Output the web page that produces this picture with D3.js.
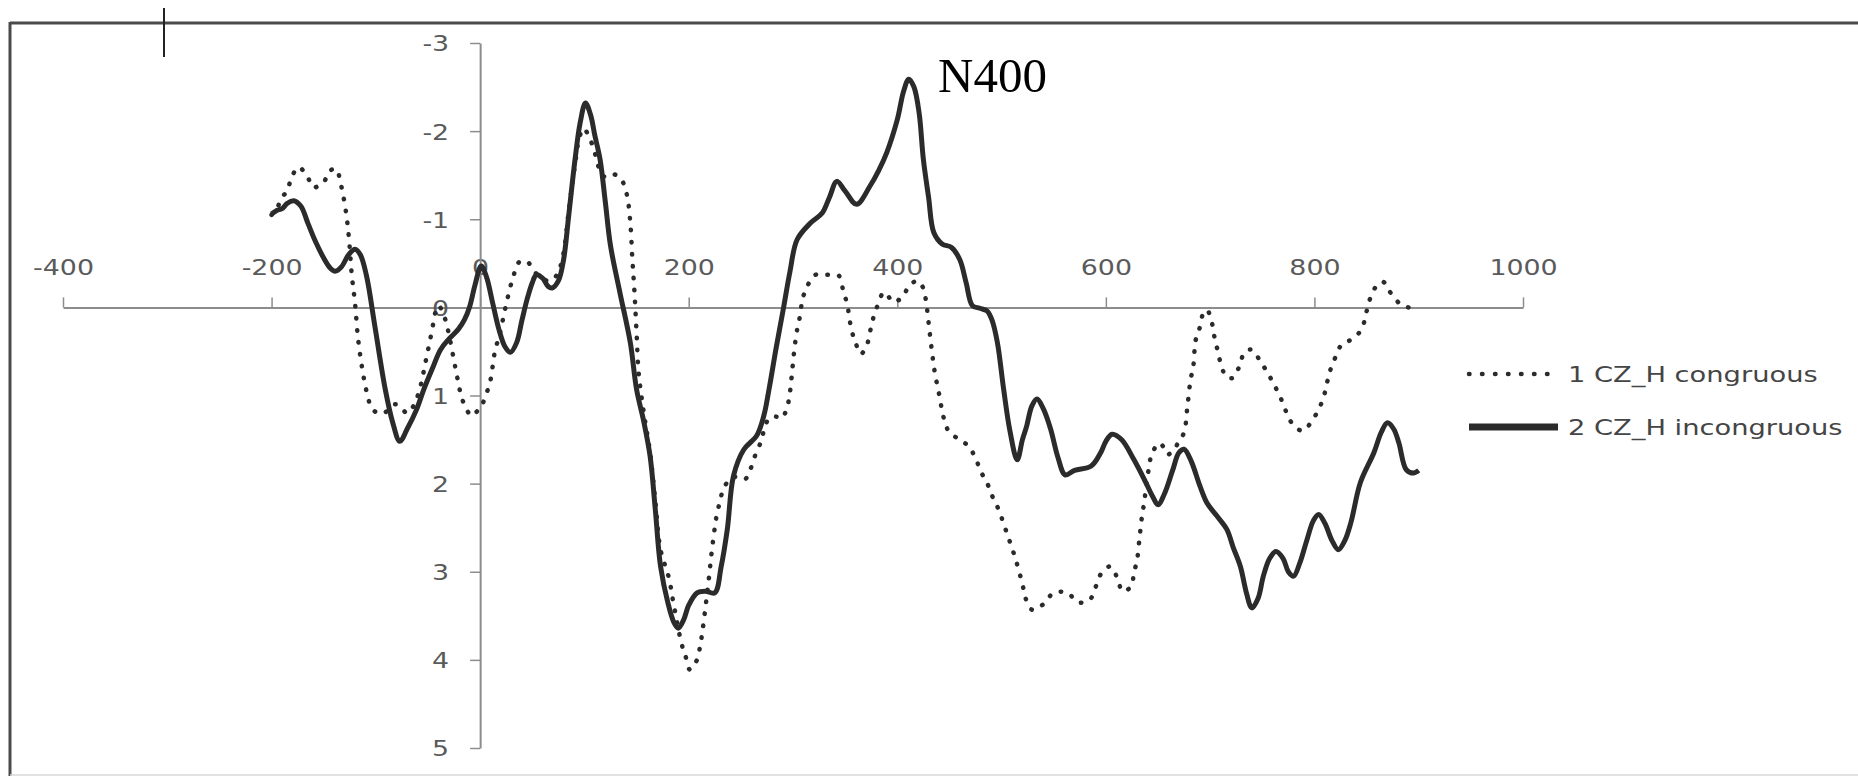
<!DOCTYPE html>
<html>
<head>
<meta charset="utf-8">
<script src="https://cdn.jsdelivr.net/npm/d3@7"></script>
<style>
  html, body { margin: 0; padding: 0; background: #fff; }
  svg { display: block; }
</style>
</head>
<body>
<div id="chart"></div>
<script>
// Data (time in ms, amplitude in microvolts, negative up)
const xTicks = [-400, -200, 0, 200, 400, 600, 800, 1000];
const yTicks = [-3, -2, -1, 0, 1, 2, 3, 4, 5];
const seriesNames = ["1 CZ_H congruous", "2 CZ_H incongruous"];
const peakLabel = "N400";

const congruousTimes = [
  -200, -195, -190, -185, -181, -174, -166, -160, -155, -150,
  -144, -138, -134, -129, -126, -123, -120, -117, -113, -109,
  -104, -98, -91, -85, -81, -75, -70, -64, -58, -52,
  -46, -43, -40, -36, -32, -29, -24, -21, -18, -13,
  -8, -3, 2, 6, 10, 14, 19, 26, 32, 37,
  42, 46, 50, 54, 60, 65, 70, 75, 80, 85,
  91, 95, 99, 104, 110, 114, 118, 123, 128, 133,
  137, 141, 144, 146, 148, 150, 152, 157, 163, 168,
  173, 181, 185, 193, 197, 201, 205, 208, 211, 213,
  216, 219, 222, 225, 227, 230, 233, 241, 248, 254,
  259, 264, 270, 273, 278, 284, 289, 294, 297, 299,
  301, 304, 307, 309, 313, 320, 327, 333, 340, 344,
  348, 352, 356, 360, 365, 371, 374, 377, 381, 387,
  391, 396, 401, 406, 411, 419, 424, 427, 430, 433,
  436, 440, 444, 448, 452, 457, 462, 468, 475, 480,
  486, 491, 497, 505, 513, 520, 523, 529, 535, 540,
  550, 563, 574, 585, 590, 595, 604, 611, 616, 624,
  627, 630, 632, 634, 636, 638, 641, 644, 651, 655,
  659, 665, 670, 675, 678, 681, 684, 686, 690, 693,
  697, 702, 704, 707, 710, 714, 718, 722, 728, 733,
  740, 748, 755, 761, 767, 772, 777, 782, 788, 793,
  797, 804, 809, 812, 815, 820, 825, 830, 836, 842,
  846, 849, 852, 857, 861, 866, 870, 874, 883, 890,
  897
];
const congruousValues = [
  -1.05, -1.12, -1.25, -1.32, -1.47, -1.59, -1.49, -1.36, -1.38, -1.42,
  -1.55, -1.57, -1.42, -1.11, -0.81, -0.36, -0.05, 0.36, 0.70, 0.95,
  1.14, 1.20, 1.19, 1.12, 1.10, 1.15, 1.20, 1.12, 0.93, 0.60,
  0.25, 0.06, -0.02, 0.05, 0.20, 0.36, 0.67, 0.85, 1.01, 1.16,
  1.23, 1.18, 1.10, 0.98, 0.82, 0.51, 0.29, -0.09, -0.36, -0.51,
  -0.53, -0.51, -0.45, -0.38, -0.33, -0.30, -0.32, -0.40, -0.62, -1.10,
  -1.62, -1.92, -2.03, -1.95, -1.75, -1.58, -1.49, -1.48, -1.51, -1.48,
  -1.42, -1.26, -0.96, -0.54, -0.17, 0.29, 0.74, 1.20, 1.65, 2.20,
  2.75, 3.07, 3.33, 3.81, 3.96, 4.11, 4.05, 4.00, 3.84, 3.69,
  3.41, 3.11, 2.78, 2.50, 2.35, 2.20, 2.07, 1.93, 1.93, 1.95,
  1.84, 1.67, 1.50, 1.35, 1.25, 1.24, 1.26, 1.15, 0.97, 0.75,
  0.51, 0.25, 0.08, -0.09, -0.22, -0.36, -0.38, -0.37, -0.37, -0.36,
  -0.20, -0.03, 0.25, 0.40, 0.53, 0.42, 0.27, 0.12, -0.02, -0.17,
  -0.13, -0.06, -0.08, -0.13, -0.24, -0.30, -0.24, -0.11, 0.17, 0.48,
  0.74, 0.98, 1.23, 1.38, 1.44, 1.48, 1.52, 1.57, 1.71, 1.86,
  1.99, 2.14, 2.29, 2.56, 2.84, 3.14, 3.30, 3.43, 3.40, 3.37,
  3.24, 3.24, 3.35, 3.31, 3.18, 3.03, 2.94, 3.07, 3.22, 3.17,
  3.01, 2.86, 2.65, 2.43, 2.27, 2.10, 1.84, 1.67, 1.54, 1.58,
  1.67, 1.62, 1.52, 1.42, 1.15, 0.84, 0.65, 0.38, 0.23, 0.08,
  0.03, 0.19, 0.33, 0.48, 0.63, 0.76, 0.80, 0.80, 0.67, 0.51,
  0.48, 0.61, 0.74, 0.87, 1.01, 1.16, 1.29, 1.36, 1.40, 1.36,
  1.30, 1.16, 1.01, 0.86, 0.72, 0.57, 0.44, 0.40, 0.36, 0.30,
  0.23, 0.10, -0.05, -0.20, -0.26, -0.29, -0.22, -0.15, -0.03, 0.00,
  0.02
];

const incongruousTimes = [
  -200, -195, -190, -185, -179, -172, -165, -158, -150, -144,
  -139, -133, -126, -120, -115, -109, -101, -91, -84, -77,
  -70, -61, -54, -46, -38, -30, -21, -15, -10, -5,
  1, 6, 12, 18, 24, 29, 35, 40, 45, 50,
  54, 60, 65, 69, 75, 80, 85, 91, 96, 101,
  106, 110, 115, 120, 125, 134, 144, 150, 157, 163,
  168, 173, 180, 186, 190, 195, 200, 208, 216, 225,
  231, 237, 243, 253, 265, 272, 277, 284, 291, 297,
  304, 317, 328, 335, 342, 350, 361, 374, 382, 390,
  400, 406, 411, 416, 421, 425, 430, 435, 443, 452,
  460, 466, 472, 479, 486, 491, 496, 502, 508, 515,
  520, 524, 529, 534, 540, 547, 554, 561, 570, 586,
  595, 600, 606, 615, 627, 638, 645, 650, 656, 664,
  670, 675, 682, 690, 697, 706, 716, 722, 729, 735,
  740, 746, 751, 757, 763, 770, 775, 780, 786, 793,
  799, 804, 810, 817, 823, 829, 835, 844, 857, 864,
  870, 876, 881, 888, 895, 900
];
const incongruousValues = [
  -1.06, -1.10, -1.12, -1.18, -1.21, -1.15, -0.95, -0.75, -0.56, -0.45,
  -0.41, -0.46, -0.60, -0.66, -0.60, -0.36, 0.21, 0.93, 1.30, 1.52,
  1.38, 1.16, 0.93, 0.70, 0.48, 0.36, 0.25, 0.14, -0.01, -0.25,
  -0.47, -0.35, -0.05, 0.25, 0.45, 0.51, 0.40, 0.15, -0.09, -0.28,
  -0.37, -0.33, -0.24, -0.22, -0.30, -0.54, -1.05, -1.68, -2.10, -2.32,
  -2.18, -1.95, -1.68, -1.20, -0.70, -0.17, 0.40, 0.93, 1.30, 1.69,
  2.30, 2.94, 3.35, 3.58, 3.64, 3.55, 3.38, 3.24, 3.22, 3.24,
  2.95, 2.52, 1.91, 1.61, 1.46, 1.23, 0.93, 0.45, 0.00, -0.40,
  -0.77, -0.96, -1.07, -1.25, -1.43, -1.32, -1.17, -1.38, -1.55, -1.76,
  -2.13, -2.45, -2.59, -2.50, -2.20, -1.68, -1.25, -0.85, -0.72, -0.68,
  -0.54, -0.28, -0.02, 0.01, 0.04, 0.15, 0.40, 0.93, 1.40, 1.73,
  1.50, 1.35, 1.12, 1.04, 1.15, 1.38, 1.70, 1.90, 1.85, 1.80,
  1.65, 1.52, 1.44, 1.50, 1.73, 1.98, 2.15, 2.24, 2.12, 1.85,
  1.65, 1.61, 1.75, 2.02, 2.22, 2.36, 2.52, 2.72, 2.94, 3.25,
  3.41, 3.30, 3.05, 2.85, 2.77, 2.85, 3.00, 3.05, 2.90, 2.63,
  2.42, 2.35, 2.45, 2.65, 2.75, 2.65, 2.44, 1.99, 1.65, 1.42,
  1.31, 1.38, 1.54, 1.84, 1.88, 1.85
];

function drawChart() {
  const width = 1858;
  const height = 776;

  const axisColor = "#8c8c8c";
  const labelColor = "#5a5a5a";
  const lineColor = "#2b2b2b";
  const labelFont = "'DejaVu Sans', sans-serif";
  const textStretch = 1.22; // labels in the picture are drawn wide

  d3.select("#chart svg").remove();

  const svg = d3
    .select("#chart")
    .append("svg")
    .attr("width", width)
    .attr("height", height);

  svg.append("rect")
    .attr("width", width)
    .attr("height", height)
    .attr("fill", "#fff");

  // Scales: x axis crosses at 0 uV, y axis at 0 ms
  const x = d3.scaleLinear().domain([-400, 1000]).range([63, 1523]);
  const y = d3.scaleLinear().domain([-3, 5]).range([43, 748]);

  // X axis, labels above the line
  const xAxis = svg.append("g")
    .attr("transform", `translate(0, ${y(0)})`)
    .call(
      d3.axisTop(x)
        .tickValues(xTicks)
        .tickFormat((d) => String(d))
        .tickSize(10)
        .tickSizeOuter(0)
        .tickPadding(22)
    );

  // Y axis through time zero
  const yAxis = svg.append("g")
    .attr("transform", `translate(${x(0)}, 0)`)
    .call(
      d3.axisLeft(y)
        .tickValues(yTicks)
        .tickFormat((d) => String(d))
        .tickSize(10)
        .tickSizeOuter(0)
    );

  [xAxis, yAxis].forEach((g) => {
    g.select(".domain").attr("stroke", axisColor).attr("stroke-width", 2);
    g.selectAll(".tick line").attr("stroke", axisColor).attr("stroke-width", 1.5);
    g.selectAll(".tick text")
      .attr("fill", labelColor)
      .style("font-family", labelFont)
      .style("font-size", "22px")
      .attr("transform", `scale(${textStretch},1)`);
  });

  yAxis.selectAll(".tick text")
    .attr("x", -31 / textStretch)
    .attr("dy", "0.36em");

  // Waveforms
  const line = d3.line()
    .x((d) => x(d[0]))
    .y((d) => y(d[1]))
    .curve(d3.curveCatmullRom.alpha(0.5));

  const congruous = d3.zip(congruousTimes, congruousValues);
  const incongruous = d3.zip(incongruousTimes, incongruousValues);

  svg.append("path")
    .datum(congruous)
    .attr("d", line)
    .attr("fill", "none")
    .attr("stroke", lineColor)
    .attr("stroke-width", 4.5)
    .attr("stroke-linecap", "round")
    .attr("stroke-dasharray", "0.5 11.5");

  svg.append("path")
    .datum(incongruous)
    .attr("d", line)
    .attr("fill", "none")
    .attr("stroke", lineColor)
    .attr("stroke-width", 5)
    .attr("stroke-linejoin", "round");

  // Legend
  const legend = svg.append("g").attr("transform", "translate(1469, 374)");

  const legendItems = legend
    .selectAll(".legend-item")
    .data(seriesNames)
    .enter()
    .append("g")
    .attr("class", "legend-item")
    .attr("transform", (d, i) => `translate(0, ${i * 53})`);

  legendItems.append("line")
    .attr("x1", 0)
    .attr("x2", (d, i) => (i === 0 ? 83 : 89))
    .attr("stroke", lineColor)
    .attr("stroke-width", (d, i) => (i === 0 ? 4.5 : 7))
    .attr("stroke-linecap", (d, i) => (i === 0 ? "round" : "butt"))
    .attr("stroke-dasharray", (d, i) => (i === 0 ? "0.5 12.5" : null));

  legendItems.append("text")
    .attr("transform", `translate(99, 8) scale(1.3,1)`)
    .attr("fill", "#454545")
    .style("font-family", labelFont)
    .style("font-size", "21px")
    .text((d) => d);

  // Peak annotation
  svg.append("text")
    .attr("x", 938)
    .attr("y", 92)
    .attr("fill", "#000")
    .style("font-family", "'Liberation Serif', serif")
    .style("font-size", "49px")
    .text(peakLabel);

  // Frame (cut off at right and bottom) and the small mark over it
  svg.append("line")
    .attr("x1", 10).attr("x2", width)
    .attr("y1", 23).attr("y2", 23)
    .attr("stroke", "#4a4a4a").attr("stroke-width", 3);
  svg.append("line")
    .attr("x1", 10).attr("x2", 10)
    .attr("y1", 22).attr("y2", height)
    .attr("stroke", "#4a4a4a").attr("stroke-width", 3);
  svg.append("line")
    .attr("x1", 10).attr("x2", width)
    .attr("y1", 775).attr("y2", 775)
    .attr("stroke", "#d8d8d8").attr("stroke-width", 1.5);
  svg.append("line")
    .attr("x1", 164).attr("x2", 164)
    .attr("y1", 8).attr("y2", 57)
    .attr("stroke", "#222").attr("stroke-width", 2);
}

drawChart();
</script>
</body>
</html>
